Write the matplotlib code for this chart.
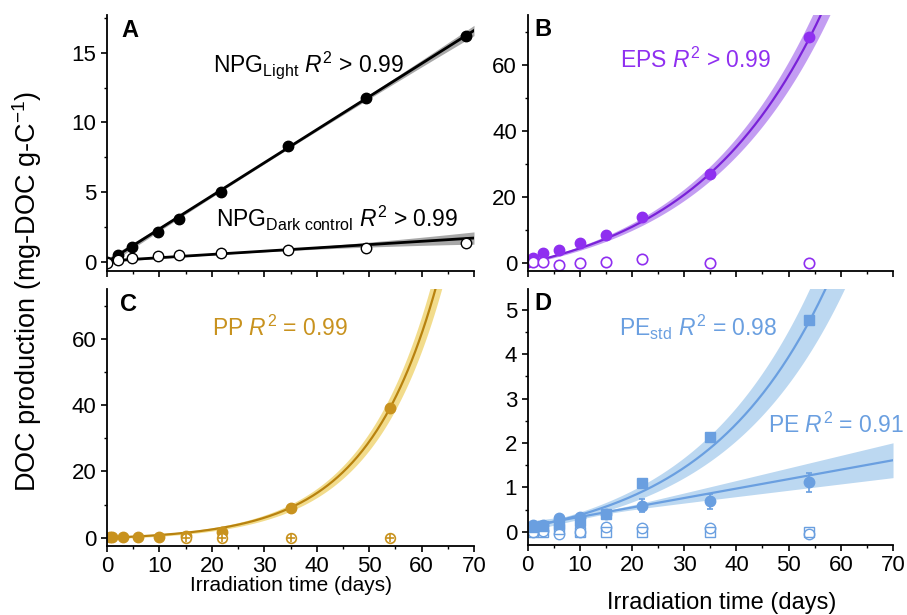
import numpy as np
import matplotlib
matplotlib.use("Agg")
import matplotlib.pyplot as plt
from matplotlib.ticker import MultipleLocator

plt.rcParams['font.family'] = ['Liberation Sans', 'DejaVu Sans']
plt.rcParams['mathtext.fontset'] = 'custom'
plt.rcParams['mathtext.rm'] = 'Liberation Sans'
plt.rcParams['mathtext.it'] = 'Liberation Sans:italic'
plt.rcParams['mathtext.bf'] = 'Liberation Sans:bold'

# ---- data ----
# panel A: net photochemical DOC generation (NPG)
a_days = [0, 2, 4.7, 9.8, 13.7, 21.7, 34.6, 49.4, 68.4]
npg_light = [0.0, 0.5, 1.1, 2.18, 3.07, 5.0, 8.28, 11.75, 16.2]
npg_dark = [-0.1, 0.15, 0.26, 0.43, 0.5, 0.62, 0.86, 0.98, 1.34]

# panels B-D sampling times
days = [1, 3, 6, 10, 15, 22, 35, 54]

eps_light = [1.5, 3.0, 3.9, 5.9, 8.5, 14.0, 26.8, 68.3]
eps_dark = [0.2, 0.2, -0.6, 0.0, 0.2, 1.2, 0.0, 0.0]

pp_light = [0.1, 0.1, 0.1, 0.3, 0.5, 1.6, 9.1, 39.2]
pp_dark_days = [15, 22, 35, 54]
pp_dark_vals = [0.0, 0.0, 0.0, 0.0]

pe_std_light = [0.1, 0.12, 0.18, 0.25, 0.4, 1.09, 2.13, 4.77]
pe_light = [0.15, 0.15, 0.3, 0.34, 0.41, 0.59, 0.69, 1.11]
pe_err = [0.02, 0.03, 0.04, 0.05, 0.06, 0.15, 0.17, 0.22]
pe_dark = [0.0, 0.02, -0.05, 0.0, 0.1, 0.08, 0.08, -0.05]
pe_std_dark = [0.0, 0.0, 0.05, 0.0, 0.0, 0.0, 0.0, 0.0]

# fitted models (parameters)
npg_light_fit = (0.237, 0.0)        # slope, intercept
npg_dark_fit = (0.0235, 0.07)
pe_fit = (0.0213, 0.12)
eps_fit = (8.87, 0.040)             # a*(exp(b*t)-1)
pp_fit = (0.734, 0.074)
pe_std_fit = (0.521, 0.0425, 0.1)   # a*(exp(b*t)-1)+c

black = '#000000'
purple = '#8f2ff0'
purple_line = '#7a22d8'
purple_band = '#b98cf0'
gold = '#c8921e'
gold_line = '#b8820f'
gold_band = '#f2dc8c'
blue = '#6a9fe0'
blue_band = '#bcd8f1'

t = np.linspace(0, 70, 300)

fig = plt.figure(figsize=(9.07, 6.15), dpi=100)
axA = fig.add_axes([0.118, 0.5593, 0.4046, 0.4163])
axB = fig.add_axes([0.5816, 0.5593, 0.403, 0.4163])
axC = fig.add_axes([0.118, 0.1122, 0.4046, 0.4179])
axD = fig.add_axes([0.5816, 0.1138, 0.403, 0.4163])

for ax in (axA, axB, axC, axD):
    for s in ('top', 'right'):
        ax.spines[s].set_visible(False)
    ax.spines['left'].set_linewidth(1.3)
    ax.spines['bottom'].set_linewidth(1.3)
    ax.set_xlim(0, 70)
    ax.xaxis.set_major_locator(MultipleLocator(10))
    ax.xaxis.set_minor_locator(MultipleLocator(5))
    ax.tick_params(which='major', direction='out', length=4, width=1.2, labelsize=16)
    ax.tick_params(which='minor', direction='out', length=2.5, width=1.0)

# ---- A ----
ax = axA
m, c = npg_light_fit
hw = 0.08 + 0.22 * ((t - 30) / 35) ** 2
ax.fill_between(t, m * t + c - hw, m * t + c + hw, color='#a8a8a8', lw=0)
ax.plot(t, m * t + c, color=black, lw=2)
m, c = npg_dark_fit
hw = 0.03 + 0.2 * ((t - 20) / 35) ** 2
ax.fill_between(t, m * t + c - hw, m * t + c + hw, color='#a8a8a8', lw=0)
ax.plot(t, m * t + c, color=black, lw=2)
ax.plot(a_days, npg_light, 'o', color=black, ms=7.5)
ax.plot(a_days, npg_dark, 'o', mfc='white', mec=black, mew=1, ms=7.5)
ax.set_ylim(-0.65, 17.7)
ax.yaxis.set_major_locator(MultipleLocator(5))
ax.yaxis.set_minor_locator(MultipleLocator(2.5))
ax.set_xticklabels([])
ax.text(0.04, 0.94, 'A', transform=ax.transAxes, fontsize=17, fontweight='bold', va='center')
ax.text(0.289, 0.805, r'NPG$_{\mathrm{Light}}$ $R^2$ > 0.99', transform=ax.transAxes,
        fontsize=16.5, va='center')
ax.text(0.297, 0.207, r'NPG$_{\mathrm{Dark\ control}}$ $R^2$ > 0.99', transform=ax.transAxes,
        fontsize=16.5, va='center')

# ---- B ----
ax = axB
a, b = eps_fit
y = a * (np.exp(b * t) - 1)
ax.fill_between(t, y * 0.93 - 0.3, y * 1.07 + 0.3, color=purple_band, lw=0, alpha=0.85)
ax.plot(t, y, color=purple_line, lw=1.6)
ax.plot([0] + days, [0.2] + eps_light, 'o', color=purple, ms=7.5)
ax.plot(days, eps_dark, 'o', mfc='white', mec=purple, mew=1.2, ms=7.5)
ax.set_ylim(-2.5, 75)
ax.yaxis.set_major_locator(MultipleLocator(20))
ax.yaxis.set_minor_locator(MultipleLocator(10))
ax.set_xticklabels([])
ax.text(0.02, 0.945, 'B', transform=ax.transAxes, fontsize=17, fontweight='bold', va='center')
ax.text(0.253, 0.824, r'EPS $R^2$ > 0.99', transform=ax.transAxes, fontsize=16.5,
        va='center', color=purple)

# ---- C ----
ax = axC
a, b = pp_fit
y = a * (np.exp(b * t) - 1)
ax.fill_between(t, y * 0.92 - 0.3, y * 1.08 + 0.3, color=gold_band, lw=0)
ax.plot(t, y, color=gold_line, lw=1.6)
ax.plot([0.5] + days, [0.1] + pp_light, 'o', color=gold, ms=7.5)
ax.plot(pp_dark_days, pp_dark_vals, 'o', mfc='white', mec=gold, mew=1.2, ms=7)
ax.plot(pp_dark_days, pp_dark_vals, '+', color=gold, mew=1.2, ms=6)
ax.set_ylim(-2.5, 75)
ax.yaxis.set_major_locator(MultipleLocator(20))
ax.yaxis.set_minor_locator(MultipleLocator(10))
ax.set_xlabel('Irradiation time (days)', fontsize=15, labelpad=-1)
ax.text(0.035, 0.94, 'C', transform=ax.transAxes, fontsize=17, fontweight='bold', va='center')
ax.text(0.286, 0.848, r'PP $R^2$ = 0.99', transform=ax.transAxes, fontsize=16.5,
        va='center', color=gold)

# ---- D ----
ax = axD
a, b, c = pe_std_fit
y = c + a * (np.exp(b * t) - 1)
ax.fill_between(t, y * 0.85 - 0.01, y * 1.15 + 0.01, color=blue_band, lw=0)
m, c0 = pe_fit
yl = m * t + c0
hw = np.sqrt(0.04 ** 2 + (0.0071 * (t - 15)) ** 2)
ax.fill_between(t, yl - hw, yl + hw, color=blue_band, lw=0)
ax.plot(t, y, color=blue, lw=1.6)
ax.plot(t, yl, color=blue, lw=1.6)
ax.plot(days, pe_dark, 'o', mfc='none', mec=blue, mew=1, ms=7.5)
ax.plot(days, pe_std_dark, 's', mfc='none', mec=blue, mew=1, ms=6.5)
ax.plot(days, pe_std_light, 's', color=blue, ms=7)
ax.errorbar(days, pe_light, yerr=pe_err, fmt='o', color=blue, ms=7.5, capsize=2,
            elinewidth=1.2, capthick=1.2)
ax.set_ylim(-0.3, 5.47)
ax.yaxis.set_major_locator(MultipleLocator(1))
ax.yaxis.set_minor_locator(MultipleLocator(0.5))
ax.text(0.02, 0.945, 'D', transform=ax.transAxes, fontsize=17, fontweight='bold', va='center')
ax.text(0.25, 0.848, r'PE$_{\mathrm{std}}$ $R^2$ = 0.98', transform=ax.transAxes,
        fontsize=16.5, va='center', color=blue)
ax.text(0.657, 0.469, r'PE $R^2$ = 0.91', transform=ax.transAxes, fontsize=16.5,
        va='center', color=blue)

fig.text(0.796, 0.009, 'Irradiation time (days)', fontsize=17, ha='center', va='baseline')
fig.text(0.030, 0.526, r'DOC production (mg-DOC g-C$^{-1}$)', rotation=90,
         fontsize=19.5, va='center', ha='center')

fig.savefig('out.png', dpi=100)
